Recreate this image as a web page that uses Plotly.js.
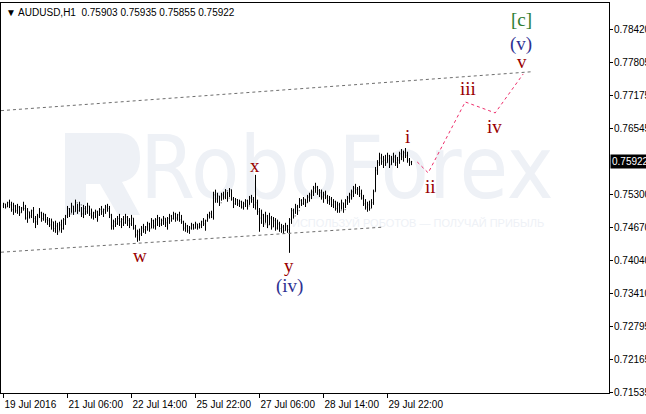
<!DOCTYPE html>
<html>
<head>
<meta charset="utf-8">
<script src="https://cdn.plot.ly/plotly-3.0.1.min.js"></script>
<style>html,body{margin:0;padding:0;background:#fff;}#chart{width:646px;height:414px;}</style>
</head>
<body>
<div id="chart"></div>
<script>
// ---- DATA (AUDUSD H1, bars) ----
const barOpen = [
.7508,.7512,.7506,.7514,.7510,.7501,.7508,.7499,.7506,.7495,
.7504,.7503,.7485,.7497,.7489,.7499,.7484,.7478,.7489,.7495,
.7484,.7491,.7482,.7480,.7472,.7478,.7465,.7470,.7459,.7472,
.7465,.7482,.7489,.7503,.7493,.7508,.7497,.7514,.7499,.7510,
.7493,.7503,.7497,.7508,.7493,.7489,.7495,.7497,.7491,.7501,
.7497,.7501,.7506,.7503,.7491,.7470,.7478,.7474,.7484,.7478,
.7482,.7476,.7487,.7480,.7474,.7485,.7466,.7453,.7459,.7455,
.7466,.7463,.7468,.7474,.7465,.7480,.7470,.7482,.7485,.7474,
.7480,.7485,.7476,.7484,.7489,.7484,.7493,.7485,.7491,.7482,
.7478,.7466,.7470,.7461,.7466,.7472,.7466,.7474,.7468,.7472,
.7478,.7474,.7480,.7489,.7493,.7487,.7529,.7521,.7527,.7514,
.7529,.7525,.7537,.7523,.7539,.7521,.7512,.7520,.7512,.7516,
.7506,.7512,.7518,.7508,.7523,.7520,.7510,.7514,.7497,.7485,
.7491,.7474,.7489,.7472,.7485,.7468,.7480,.7466,.7474,.7465,
.7468,.7461,.7470,.7463,.7482,.7499,.7489,.7506,.7499,.7518,
.7512,.7521,.7514,.7525,.7529,.7535,.7542,.7544,.7537,.7533,
.7525,.7529,.7525,.7518,.7521,.7510,.7516,.7503,.7510,.7499,
.7514,.7501,.7518,.7523,.7529,.7535,.7542,.7539,.7540,.7531,
.7523,.7512,.7506,.7510,.7503,.7514,.7535,.7576,.7590,.7599,
.7592,.7595,.7590,.7603,.7586,.7597,.7601,.7590,.7595,.7607,
.7601,.7609,.7603,.7595,.75903];
const barHigh = [
.7514,.7512,.7516,.7520,.7516,.7514,.7510,.7512,.7508,.7506,
.7516,.7510,.7504,.7497,.7501,.7506,.7489,.7493,.7504,.7497,
.7495,.7493,.7487,.7485,.7484,.7478,.7480,.7476,.7478,.7482,
.7485,.7491,.7508,.7504,.7514,.7508,.7520,.7512,.7516,.7506,
.7510,.7508,.7514,.7508,.7503,.7497,.7501,.7499,.7504,.7508,
.7503,.7510,.7512,.7508,.7493,.7482,.7485,.7489,.7493,.7485,
.7489,.7493,.7489,.7485,.7491,.7485,.7472,.7463,.7465,.7470,
.7474,.7470,.7478,.7476,.7485,.7482,.7485,.7491,.7487,.7484,
.7489,.7485,.7487,.7493,.7491,.7497,.7495,.7493,.7497,.7491,
.7480,.7476,.7472,.7470,.7476,.7474,.7478,.7474,.7476,.7480,
.7485,.7482,.7493,.7497,.7499,.7535,.7539,.7533,.7527,.7533,
.7535,.7540,.7535,.7542,.7539,.7525,.7523,.7521,.7520,.7518,
.7516,.7521,.7520,.7527,.7529,.7525,.7567,.7520,.7504,.7501,
.7493,.7497,.7491,.7495,.7489,.7487,.7485,.7482,.7478,.7474,
.7472,.7476,.7472,.7485,.7504,.7503,.7512,.7510,.7523,.7521,
.7525,.7521,.7529,.7533,.7539,.7546,.7552,.7546,.7540,.7539,
.7535,.7537,.7529,.7527,.7525,.7521,.7518,.7516,.7514,.7520,
.7514,.7521,.7527,.7533,.7539,.7546,.7550,.7544,.7546,.7539,
.7529,.7521,.7516,.7518,.7521,.7539,.7582,.7595,.7609,.7607,
.7603,.7605,.7609,.7605,.7603,.7609,.7605,.7601,.7611,.7616,
.7613,.7618,.7611,.7599,.75935];
const barLow = [
.7504,.7503,.7506,.7504,.7497,.7491,.7495,.7493,.7489,.7495,
.7499,.7482,.7476,.7484,.7485,.7476,.7466,.7472,.7485,.7478,
.7480,.7476,.7472,.7468,.7463,.7459,.7457,.7453,.7461,.7457,
.7463,.7472,.7485,.7487,.7495,.7491,.7497,.7493,.7497,.7487,
.7485,.7491,.7493,.7489,.7484,.7482,.7485,.7478,.7489,.7491,
.7487,.7493,.7497,.7485,.7463,.7463,.7468,.7472,.7470,.7466,
.7470,.7474,.7470,.7466,.7470,.7463,.7448,.7440,.7442,.7451,
.7457,.7455,.7461,.7459,.7466,.7465,.7463,.7470,.7468,.7470,
.7472,.7468,.7463,.7474,.7478,.7482,.7478,.7480,.7478,.7474,
.7461,.7459,.7457,.7455,.7463,.7463,.7465,.7463,.7465,.7466,
.7470,.7461,.7478,.7484,.7485,.7482,.7514,.7514,.7508,.7518,
.7520,.7521,.7516,.7525,.7518,.7504,.7510,.7508,.7506,.7503,
.7501,.7506,.7501,.7510,.7514,.7504,.7501,.7491,.7459,.7474,
.7468,.7476,.7466,.7472,.7463,.7468,.7461,.7463,.7459,.7457,
.7455,.7461,.7457,.7419,.7474,.7484,.7493,.7491,.7504,.7508,
.7510,.7506,.7514,.7516,.7521,.7527,.7533,.7529,.7525,.7520,
.7514,.7521,.7512,.7510,.7506,.7504,.7499,.7495,.7495,.7501,
.7495,.7504,.7510,.7514,.7520,.7525,.7531,.7529,.7525,.7520,
.7508,.7501,.7497,.7499,.7504,.7510,.7535,.7567,.7584,.7586,
.7580,.7584,.7590,.7580,.7586,.7590,.7584,.7580,.7588,.7595,
.7592,.7599,.7590,.7584,.75855];
const barClose = [
.7512,.7506,.7514,.7510,.7501,.7508,.7499,.7506,.7495,.7504,
.7503,.7485,.7497,.7489,.7499,.7484,.7478,.7489,.7495,.7484,
.7491,.7482,.7480,.7472,.7478,.7465,.7470,.7459,.7472,.7465,
.7482,.7489,.7503,.7493,.7508,.7497,.7514,.7499,.7510,.7493,
.7503,.7497,.7508,.7493,.7489,.7495,.7497,.7491,.7501,.7497,
.7501,.7506,.7503,.7491,.7470,.7478,.7474,.7484,.7478,.7482,
.7476,.7487,.7480,.7474,.7485,.7466,.7453,.7459,.7455,.7466,
.7463,.7468,.7474,.7465,.7480,.7470,.7482,.7485,.7474,.7480,
.7485,.7476,.7484,.7489,.7484,.7493,.7485,.7491,.7482,.7478,
.7466,.7470,.7461,.7466,.7472,.7466,.7474,.7468,.7472,.7478,
.7474,.7480,.7489,.7493,.7487,.7529,.7521,.7527,.7514,.7529,
.7525,.7537,.7523,.7539,.7521,.7512,.7520,.7512,.7516,.7506,
.7512,.7518,.7508,.7523,.7520,.7510,.7514,.7497,.7485,.7491,
.7474,.7489,.7472,.7485,.7468,.7480,.7466,.7474,.7465,.7468,
.7461,.7470,.7463,.7482,.7499,.7489,.7506,.7499,.7518,.7512,
.7521,.7514,.7525,.7529,.7535,.7542,.7544,.7537,.7533,.7525,
.7529,.7525,.7518,.7521,.7510,.7516,.7503,.7510,.7499,.7514,
.7501,.7518,.7523,.7529,.7535,.7542,.7539,.7540,.7531,.7523,
.7512,.7506,.7510,.7503,.7514,.7535,.7576,.7590,.7599,.7592,
.7595,.7590,.7603,.7586,.7597,.7601,.7590,.7595,.7607,.7601,
.7609,.7603,.7595,.7592,.75922];

const timeTickIndex = [0, 32, 64, 96, 128, 160, 192];
const timeTickLabels = ["19 Jul 2016", "21 Jul 06:00", "22 Jul 14:00", "25 Jul 22:00", "27 Jul 06:00", "28 Jul 14:00", "29 Jul 22:00"];
const priceTicks = [0.78420, 0.77805, 0.77175, 0.76545, 0.75300, 0.74670, 0.74040, 0.73410, 0.72795, 0.72165, 0.71535];
const lastPrice = 0.75922;
const headerText = "▼ AUDUSD,H1\u00a0\u00a00.75903 0.75935 0.75855 0.75922";

// channel lines (bar index, price)
const upperChannelX = [-1.25, 264.85];
const upperChannelY = [0.76889, 0.77629];
const lowerChannelX = [-1.25, 189.85];
const lowerChannelY = [0.74202, 0.74678];
// forecast path
const forecastX = [206.85, 212.35, 230.85, 245.85, 259.85];
const forecastY = [0.75916, 0.75708, 0.77054, 0.76846, 0.77585];
// wave labels
const waveText  = ["w", "x", "y", "(iv)", "i", "ii", "iii", "iv", "v", "(v)", "[c]"];
const waveX     = [68.35, 125.85, 142.85, 142.85, 201.85, 213.35, 232.35, 245.35, 259.35, 258.85, 258.85];
const waveY     = [0.74133, 0.75840, 0.73944, 0.73565, 0.76391, 0.75442, 0.77301, 0.76580, 0.77813, 0.78154, 0.78610];
const waveColor = ["#990000","#990000","#990000","#2e3192","#990000","#990000","#990000","#990000","#990000","#2e3192","#2e7d32"];

// watermark texts (drawn under the bars)
const watermarkText = ["RoboForex", "ИСПОЛЬЗУЙ РОБОТОВ — ПОЛУЧАЙ ПРИБЫЛЬ"];

// ---- CHART ----
const barIndex = barClose.map((_, i) => i);
const wmColor = "#eef1f6";

const traces = [
  // watermark on the hidden base subplot (pixel-like coordinates)
  {type: "scatter", mode: "text", x: [140], y: [176], text: [watermarkText[0]], textposition: "middle right",
   textfont: {family: "Liberation Sans Narrow, DejaVu Sans Condensed, Liberation Sans", size: 88, color: wmColor},
   hoverinfo: "skip", showlegend: false, xaxis: "x", yaxis: "y"},
  {type: "scatter", mode: "text", x: [292], y: [224], text: [watermarkText[1]], textposition: "middle right",
   textfont: {family: "Liberation Sans, Arial", size: 11, color: wmColor}, hoverinfo: "skip", showlegend: false,
   xaxis: "x", yaxis: "y"},
  // chart on the overlay subplot
  {
    type: "ohlc", x: barIndex, open: barOpen, high: barHigh, low: barLow, close: barClose,
    increasing: {line: {color: "#000", width: 1}}, decreasing: {line: {color: "#000", width: 1}},
    tickwidth: 0.3, hoverinfo: "skip", showlegend: false, xaxis: "x2", yaxis: "y2"
  },
  {type: "scatter", mode: "lines", x: upperChannelX, y: upperChannelY, xaxis: "x2", yaxis: "y2",
   line: {color: "#6e6e6e", width: 1, dash: "3px,3px"}, hoverinfo: "skip", showlegend: false},
  {type: "scatter", mode: "lines", x: lowerChannelX, y: lowerChannelY, xaxis: "x2", yaxis: "y2",
   line: {color: "#6e6e6e", width: 1, dash: "3px,3px"}, hoverinfo: "skip", showlegend: false},
  {type: "scatter", mode: "lines", x: forecastX, y: forecastY, xaxis: "x2", yaxis: "y2",
   line: {color: "#ee2e6b", width: 1, dash: "dot"}, hoverinfo: "skip", showlegend: false}
];

const annotations = waveText.map((t, k) => ({
  x: waveX[k], y: waveY[k], xref: "x2", yref: "y2", text: t, showarrow: false,
  font: {family: "Liberation Serif, serif", size: 19, color: waveColor[k]},
  xanchor: "center", yanchor: "middle"
}));

annotations.push(
  {xref: "paper", yref: "paper", x: 0, y: 1, xanchor: "left", yanchor: "top", xshift: 3, yshift: -2,
   showarrow: false, text: headerText, font: {family: "Liberation Sans, Arial", size: 10, color: "#000"}},
  {xref: "paper", yref: "y2", x: 1, y: lastPrice, xanchor: "left", yanchor: "middle", xshift: 1,
   showarrow: false, text: lastPrice.toFixed(5), bgcolor: "#000", borderpad: 1,
   font: {family: "Liberation Sans, Arial", size: 10, color: "#fff"}}
);

const shapes = [
  // RoboForex logo block (watermark)
  {type: "path", xref: "x", yref: "y", layer: "below",
   path: "M 65 215 L 65 133 L 118 133 Q 140 133 140 158 Q 140 178 122 182 L 140 215 L 118 215 L 100 184 L 86 184 L 86 215 Z",
   fillcolor: wmColor, line: {width: 0}}
];

const axisFont = {family: "Liberation Sans, Arial", size: 10, color: "#000"};
const layout = {
  width: 646, height: 414,
  margin: {l: 1, r: 37, t: 3, b: 21, pad: 0},
  paper_bgcolor: "#fff", plot_bgcolor: "#fff",
  showlegend: false,
  font: axisFont,
  // hidden base subplot in pixel units, holds the watermark
  xaxis: {range: [1, 609], visible: false, showgrid: false, zeroline: false, fixedrange: true},
  yaxis: {range: [393, 3], visible: false, showgrid: false, zeroline: false, fixedrange: true},
  xaxis2: {
    overlaying: "x", anchor: "y2",
    range: [-1.25, 302.75], tickmode: "array", tickvals: timeTickIndex, ticktext: timeTickLabels,
    ticks: "outside", ticklen: 4, tickcolor: "#000", ticklabelposition: "outside right", ticklabelstandoff: 2,
    showline: true, mirror: true, linecolor: "#000", linewidth: 1,
    showgrid: false, zeroline: false, rangeslider: {visible: false}, fixedrange: true,
    tickfont: axisFont
  },
  yaxis2: {
    overlaying: "y", anchor: "x2", side: "right",
    range: [0.71530, 0.78932], tickmode: "array", tickvals: priceTicks,
    ticktext: priceTicks.map(v => v.toFixed(5)),
    ticks: "outside", ticklen: 3, tickcolor: "#000", ticklabelstandoff: -1,
    showline: true, mirror: true, linecolor: "#000", linewidth: 1,
    showgrid: false, zeroline: false, fixedrange: true,
    tickfont: axisFont
  },
  annotations: annotations,
  shapes: shapes
};

Plotly.newPlot("chart", traces, layout, {staticPlot: true, displayModeBar: false});
</script>
</body>
</html>
